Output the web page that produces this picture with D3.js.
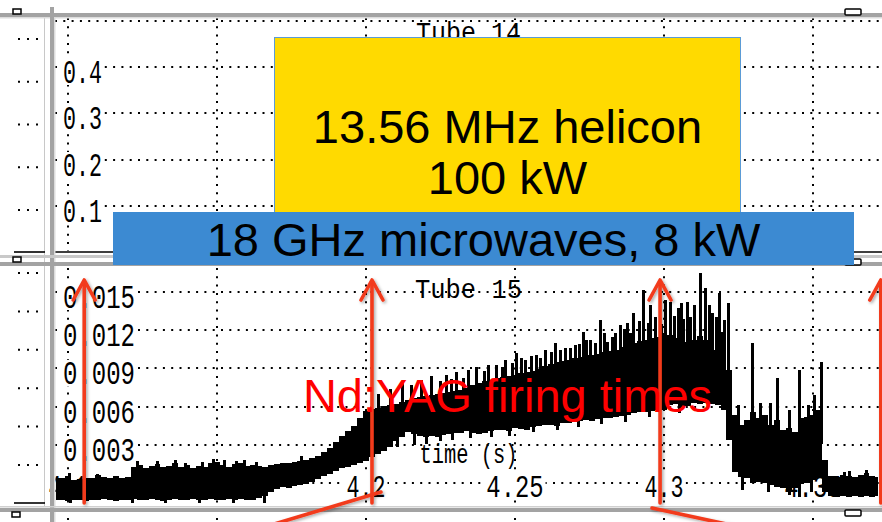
<!DOCTYPE html>
<html>
<head>
<meta charset="utf-8">
<script src="https://cdn.jsdelivr.net/npm/d3@7"></script>
<style>
  html, body { margin: 0; padding: 0; background: #fff; }
  svg { display: block; }
</style>
</head>
<body>
<svg id="chart" width="882" height="522"></svg>
<script>
// ---- Tube 15 photodiode signal: min/max envelope in 2 ms bins ----
const binTimes = [
  4.096,4.098,4.100,4.102,4.104,4.106,4.108,4.110,4.112,4.114,
  4.116,4.118,4.120,4.122,4.124,4.126,4.128,4.130,4.132,4.134,
  4.136,4.138,4.140,4.142,4.144,4.146,4.148,4.150,4.152,4.154,
  4.156,4.158,4.160,4.162,4.164,4.166,4.168,4.170,4.172,4.174,
  4.176,4.178,4.180,4.182,4.184,4.186,4.188,4.190,4.192,4.194,
  4.196,4.198,4.200,4.202,4.204,4.206,4.208,4.210,4.212,4.214,
  4.216,4.218,4.220,4.222,4.224,4.226,4.228,4.230,4.232,4.234,
  4.236,4.238,4.240,4.242,4.244,4.246,4.248,4.250,4.252,4.254,
  4.256,4.258,4.260,4.262,4.264,4.266,4.268,4.270,4.272,4.274,
  4.276,4.278,4.280,4.282,4.284,4.286,4.288,4.290,4.292,4.294,
  4.296,4.298,4.300,4.302,4.304,4.306,4.308,4.310,4.312,4.314,
  4.316,4.318,4.320,4.322,4.324,4.326,4.328,4.330,4.332,4.334,
  4.336,4.338,4.340,4.342,4.344,4.346,4.348,4.350,4.352,4.354,
  4.356,4.358,4.360,4.362,4.364,4.366,4.368,4.370,4.372
];
const upperEnv = [
  0.00039,0.00039,0.00055,0.00024,0.00031,0.00039,0.00039,0.00063,0.00047,0.00039,
  0.00055,0.00039,0.00047,0.00126,0.00141,0.00118,0.00133,0.00149,0.00126,0.00133,
  0.00157,0.00126,0.00141,0.00118,0.00133,0.00126,0.00157,0.00165,0.00141,0.00126,
  0.00149,0.00157,0.00133,0.00141,0.00133,0.00126,0.00141,0.00149,0.00157,0.00157,
  0.00165,0.00173,0.00181,0.00196,0.00212,0.00243,0.00275,0.00322,0.00369,0.00408,
  0.00447,0.00510,0.00565,0.00581,0.00589,0.00604,0.00612,0.00620,0.00636,0.00652,
  0.00667,0.00675,0.00683,0.00691,0.00699,0.00707,0.00714,0.00722,0.00730,0.00746,
  0.00769,0.00785,0.00801,0.00809,0.00824,0.00832,0.00840,0.00848,0.00864,0.00871,
  0.00879,0.00895,0.00918,0.00934,0.00950,0.00958,0.00966,0.00981,0.00989,0.01005,
  0.01005,0.01013,0.01028,0.01036,0.01044,0.01068,0.01083,0.01099,0.01115,0.01123,
  0.01138,0.01146,0.01178,0.01162,0.01138,0.01083,0.01107,0.01123,0.01154,0.01123,
  0.01044,0.01083,0.01185,0.00887,0.00534,0.00455,0.00495,0.00557,0.00510,0.00534,
  0.00455,0.00495,0.00416,0.00432,0.00400,0.00510,0.00518,0.00534,0.00573,0.00181,
  0.00055,0.00047,0.00063,0.00055,0.00047,0.00063,0.00079,0.00055,0.00047
];
const lowerEnv = [
  -0.00133,-0.00133,-0.00141,-0.00133,-0.00133,-0.00141,-0.00133,-0.00133,-0.00126,-0.00133,
  -0.00141,-0.00133,-0.00133,-0.00126,-0.00133,-0.00133,-0.00126,-0.00133,-0.00141,-0.00133,
  -0.00126,-0.00133,-0.00133,-0.00126,-0.00133,-0.00133,-0.00126,-0.00133,-0.00133,-0.00126,
  -0.00133,-0.00126,-0.00133,-0.00133,-0.00118,-0.00102,-0.00071,-0.00047,-0.00031,-0.00039,
  -0.00024,-0.00016,-0.00008,0.00008,0.00031,0.00055,0.00071,0.00094,0.00118,0.00126,
  0.00141,0.00157,0.00173,0.00204,0.00228,0.00251,0.00283,0.00330,0.00361,0.00400,
  0.00385,0.00369,0.00361,0.00369,0.00361,0.00377,0.00385,0.00393,0.00393,0.00408,
  0.00393,0.00385,0.00393,0.00408,0.00416,0.00416,0.00408,0.00432,0.00424,0.00416,
  0.00440,0.00447,0.00455,0.00455,0.00447,0.00471,0.00471,0.00479,0.00487,0.00495,
  0.00487,0.00502,0.00510,0.00510,0.00518,0.00526,0.00534,0.00550,0.00557,0.00557,
  0.00565,0.00573,0.00573,0.00612,0.00620,0.00597,0.00604,0.00628,0.00620,0.00628,
  0.00620,0.00612,0.00573,0.00338,0.00086,0.00047,0.00039,0.00000,0.00008,0.00000,
  -0.00016,-0.00031,-0.00039,-0.00055,-0.00039,-0.00008,0.00000,0.00024,0.00039,-0.00071,
  -0.00102,-0.00110,-0.00102,-0.00110,-0.00102,-0.00110,-0.00102,-0.00110,-0.00102
];
// individual excursions beyond the envelope: [time (s), value]
const spikes = [
  [4.1003,0.00079],[4.1097,0.00071],[4.1231,0.00173],[4.1298,0.00173],[4.1358,0.00181],
  [4.1391,0.00157],[4.1448,0.00165],[4.1488,0.00188],[4.1522,0.00181],[4.1565,0.00173],
  [4.1589,0.00181],[4.1632,0.00165],[4.1783,0.00212],
  [4.2040,0.00700],[4.2080,0.00740],[4.2120,0.00790],[4.2150,0.00770],
  [4.2184,0.00809],[4.2217,0.00840],[4.2250,0.00800],[4.2268,0.00848],[4.2285,0.00820],
  [4.2301,0.00871],[4.2324,0.00824],[4.2341,0.00887],[4.2368,0.00911],[4.2395,0.00880],
  [4.2410,0.00930],[4.2435,0.00927],[4.2455,0.00910],[4.2468,0.00966],[4.2490,0.00940],
  [4.2502,0.01020],[4.2520,0.00980],[4.2535,0.00966],[4.2555,0.01000],[4.2569,0.01005],
  [4.2585,0.00980],[4.2602,0.01044],[4.2620,0.01030],[4.2635,0.01099],[4.2652,0.01044],
  [4.2669,0.01060],[4.2685,0.01060],[4.2702,0.01083],[4.2715,0.01090],[4.2729,0.01185],
  [4.2740,0.01120],[4.2753,0.01123],[4.2770,0.01100],[4.2786,0.01280],[4.2800,0.01180],
  [4.2809,0.01107],[4.2825,0.01150],[4.2836,0.01178],[4.2853,0.01240],[4.2865,0.01210],
  [4.2876,0.01256],[4.2885,0.01180],[4.2896,0.01335],[4.2915,0.01270],[4.2930,0.01515],
  [4.2945,0.01260],[4.2953,0.01397],[4.2970,0.01300],[4.2990,0.01250],[4.3003,0.01437],
  [4.3020,0.01421],[4.3033,0.01310],[4.3047,0.01374],[4.3057,0.01413],[4.3065,0.01290],
  [4.3077,0.01421],[4.3087,0.01303],[4.3100,0.01400],[4.3120,0.01649],[4.3137,0.01531],
  [4.3150,0.01400],[4.3161,0.01335],[4.3175,0.01300],[4.3184,0.01492],[4.3200,0.01280],
  [4.3214,0.01413],
  [4.3247,0.00612],[4.3294,0.01099],[4.3321,0.00628],[4.3355,0.00628],[4.3381,0.00824],
  [4.3421,0.00573],[4.3455,0.00887],[4.3482,0.00612],[4.3505,0.00691],[4.3528,0.00950],
  [4.3605,0.00086],[4.3622,0.00094],[4.3679,0.00102],
  [4.1007,-0.00157],[4.1214,-0.00157],[4.1324,-0.00157],[4.1438,-0.00157],[4.1555,-0.00157],
  [4.1656,-0.00157],
  [4.2060,0.00260],[4.2105,0.00280],[4.2160,0.00300],[4.2200,0.00310],[4.2250,0.00330],
  [4.2290,0.00340],[4.2350,0.00350],[4.2420,0.00360],[4.2480,0.00370],[4.2560,0.00400],
  [4.2640,0.00420],[4.2710,0.00440],[4.2790,0.00460],[4.2870,0.00480],[4.2950,0.00520],
  [4.3050,0.00550],
  [4.3261,-0.00055],[4.3348,-0.00071],[4.3421,-0.00094],[4.3455,-0.00110],[4.3495,-0.00071]
];

// ---- axes ----
const timeTicks = [4.1, 4.15, 4.2, 4.25, 4.3, 4.35];
const tube14Grid = [0.1, 0.2, 0.3, 0.4, 0.5];
const tube14Labels = [0.1, 0.2, 0.3, 0.4];
const tube15Grid = [0, 0.003, 0.006, 0.009, 0.012, 0.015];
const tube15Labels = [0.003, 0.006, 0.009, 0.012, 0.015];

// ---- annotations ----
const laserShots = [4.1054, 4.2020, 4.2987, 4.3728];
const heliconLines = ["13.56 MHz helicon", "100 kW"];
const microwaveLabel = "18 GHz microwaves, 8 kW";
const laserLabel = "Nd:YAG firing times";

const W = 882, H = 522;
const svg = d3.select("#chart");

// scales
const plotLeft = 55, plotRight = 882;
const plotMid = (plotLeft + plotRight) / 2;
const x = d3.scaleLinear().domain([4.0956, 4.3732]).range([plotLeft, plotRight]);
const yTop = d3.scaleLinear().domain([0, 0.5]).range([252.3, 20.7]);
const yBot = d3.scaleLinear().domain([-0.0015, 0.017]).range([502.1, 266.5]);

const scopeFont = "'Liberation Mono', 'DejaVu Sans Mono', monospace";
const sansFont = "'Liberation Sans', Arial, sans-serif";

const defs = svg.append("defs");
defs.append("clipPath").attr("id", "tube15Clip")
  .append("rect").attr("x", plotLeft).attr("y", 267).attr("width", plotRight - plotLeft).attr("height", 238);
const shadow = defs.append("filter").attr("id", "arrowShadow")
  .attr("x", "-50%").attr("y", "-10%").attr("width", "200%").attr("height", "120%");
shadow.append("feDropShadow").attr("dx", 1.5).attr("dy", 1.5)
  .attr("stdDeviation", 1.4).attr("flood-color", "#000").attr("flood-opacity", 0.35);

svg.append("rect").attr("width", W).attr("height", H).attr("fill", "#fff");

// ---- neighbouring scope window on the left edge ----
const strip = svg.append("g");
const nbTop = d3.scaleLinear().domain([0, 4]).range([39, 210]);
const nbBot = d3.scaleLinear().domain([0, 5]).range([273, 465]);
strip.selectAll("line.nb")
  .data(d3.range(5).map(nbTop).concat(d3.range(6).map(nbBot)))
  .join("line").attr("class", "nb")
  .attr("x1", 18).attr("x2", 43).attr("y1", d => d).attr("y2", d => d)
  .attr("stroke", "#000").attr("stroke-width", 2).attr("stroke-dasharray", "2,7");
strip.append("line").attr("x1", 44.5).attr("x2", 44.5).attr("y1", 17).attr("y2", 506)
  .attr("stroke", "#c8c8c8").attr("stroke-width", 1);
strip.append("line").attr("x1", 14).attr("x2", 45).attr("y1", 252).attr("y2", 252)
  .attr("stroke", "#000").attr("stroke-width", 1.6);
strip.append("line").attr("x1", 14).attr("x2", 45).attr("y1", 503).attr("y2", 503)
  .attr("stroke", "#000").attr("stroke-width", 1.6);

// ---- dotted grids ----
const dot = { stroke: "#000", width: 2, dash: "2,6.3" };
function hGrid(g, values, yScale, y0, y1) {
  g.selectAll(null).data(values).join("line")
    .attr("x1", plotLeft).attr("x2", plotRight)
    .attr("y1", d => Math.round(yScale(d))).attr("y2", d => Math.round(yScale(d)))
    .attr("stroke", dot.stroke).attr("stroke-width", dot.width).attr("stroke-dasharray", dot.dash);
  g.selectAll(null).data(timeTicks).join("line")
    .attr("x1", d => Math.round(x(d))).attr("x2", d => Math.round(x(d)))
    .attr("y1", y0).attr("y2", y1)
    .attr("stroke", dot.stroke).attr("stroke-width", dot.width).attr("stroke-dasharray", dot.dash);
}

function tickLabel(g, txt, xPos, baseline, charW, anchor, size) {
  const w = txt.length * charW;
  const x0 = anchor === "middle" ? xPos - w / 2 : xPos;
  g.append("rect").attr("x", x0 - 2).attr("y", baseline - 24).attr("width", w + 4).attr("height", 26)
    .attr("fill", "#fff");
  g.append("text").attr("x", x0).attr("y", baseline)
    .attr("font-family", scopeFont).attr("font-size", size).attr("fill", "#000")
    .attr("textLength", w).attr("lengthAdjust", "spacingAndGlyphs")
    .text(txt);
}

// Tube 14 panel
const panel14 = svg.append("g");
hGrid(panel14, tube14Grid, yTop, 18, 251);
const f1 = d3.format(".1f");
tube14Labels.forEach(v => tickLabel(panel14, f1(v), 63, Math.round(yTop(v)) + 16, 13, "start", 34));
panel14.append("text").attr("x", plotMid).attr("y", 41)
  .attr("text-anchor", "middle").attr("font-family", scopeFont).attr("font-size", 27)
  .attr("textLength", 105).attr("lengthAdjust", "spacingAndGlyphs").text("Tube 14");
panel14.append("line").attr("x1", plotLeft).attr("x2", plotRight).attr("y1", 252).attr("y2", 252)
  .attr("stroke", "#000").attr("stroke-width", 1.6);

// Tube 15 panel
const panel15 = svg.append("g");
hGrid(panel15, tube15Grid, yBot, 268, 505);
const f3 = d3.format(".3f");
tube15Labels.forEach(v => tickLabel(panel15, f3(v), 63, Math.round(yBot(v)) + 16, 14.4, "start", 34));
timeTicks.forEach(t => {
  const s = String(t);
  tickLabel(panel15, s, x(t), Math.round(yBot(0)) + 14, s.length > 3 ? 14.3 : 13, "middle", 31);
});
panel15.append("text").attr("x", plotMid).attr("y", 298)
  .attr("text-anchor", "middle").attr("font-family", scopeFont).attr("font-size", 27)
  .attr("textLength", 107).attr("lengthAdjust", "spacingAndGlyphs").text("Tube 15");
panel15.append("text").attr("x", plotMid).attr("y", 463)
  .attr("text-anchor", "middle").attr("font-family", scopeFont).attr("font-size", 27)
  .attr("textLength", 98).attr("lengthAdjust", "spacingAndGlyphs").text("time (s)");

// ---- signal trace ----
const trace = svg.append("g").attr("clip-path", "url(#tube15Clip)");
const bins = binTimes.map((t, i) => ({ t, hi: upperEnv[i], lo: lowerEnv[i] }));
trace.append("path").datum(bins)
  .attr("d", d3.area().x(d => x(d.t)).y0(d => yBot(d.lo)).y1(d => yBot(d.hi)).curve(d3.curveStep))
  .attr("fill", "#000").attr("shape-rendering", "crispEdges");
const nearestBin = t => bins[d3.minIndex(bins, b => Math.abs(b.t - t))];
trace.selectAll("line.spike").data(spikes).join("line").attr("class", "spike")
  .attr("x1", d => Math.round(x(d[0])) + 0.5).attr("x2", d => Math.round(x(d[0])) + 0.5)
  .attr("y1", d => { const b = nearestBin(d[0]); return yBot((b.hi + b.lo) / 2); })
  .attr("y2", d => yBot(d[1]))
  .attr("stroke", "#000").attr("stroke-width", 2.2).attr("shape-rendering", "crispEdges");

// ---- window chrome ----
const chrome = svg.append("g");
chrome.append("rect").attr("x", 0).attr("y", 13).attr("width", W).attr("height", 4).attr("fill", "#a3a3a3");
chrome.append("rect").attr("x", 0).attr("y", 17).attr("width", W).attr("height", 1.5).attr("fill", "#dcdcdc");
chrome.append("rect").attr("x", 50).attr("y", 7).attr("width", 4).attr("height", H - 7).attr("fill", "#a3a3a3");
chrome.append("rect").attr("x", 54).attr("y", 17).attr("width", 1.5).attr("height", H - 17).attr("fill", "#dcdcdc");
chrome.append("rect").attr("x", 0).attr("y", 255).attr("width", W).attr("height", 3).attr("fill", "#c9c9c9");
chrome.append("rect").attr("x", 0).attr("y", 262).attr("width", W).attr("height", 4).attr("fill", "#a3a3a3");
chrome.append("rect").attr("x", 0).attr("y", 506).attr("width", W).attr("height", 1.5).attr("fill", "#d0d0d0");
chrome.append("rect").attr("x", 0).attr("y", 508).attr("width", W).attr("height", 4).attr("fill", "#a3a3a3");
// resize handles
[[13, 9], [13, 257], [12, 512]].forEach(([hx, hy]) =>
  chrome.append("rect").attr("x", hx).attr("y", hy).attr("width", 8).attr("height", 5)
    .attr("fill", "#fff").attr("stroke", "#000").attr("stroke-width", 1.5));
[[845, 9], [845, 259], [845, 510]].forEach(([hx, hy]) =>
  chrome.append("rect").attr("x", hx).attr("y", hy).attr("width", 16).attr("height", 6).attr("rx", 1)
    .attr("fill", "#fff").attr("stroke", "#000").attr("stroke-width", 1.5));
// tick dots of the window below
chrome.selectAll(null).data(timeTicks).join("rect")
  .attr("x", d => Math.round(x(d)) - 1).attr("y", 518).attr("width", 2).attr("height", 2).attr("fill", "#000");

// ---- annotation boxes ----
const ann = svg.append("g");
ann.append("rect").attr("x", 274.5).attr("y", 37.5).attr("width", 466).attr("height", 175)
  .attr("fill", "#FFDA00").attr("stroke", "#5b9bd5").attr("stroke-width", 1);
heliconLines.forEach((s, i) =>
  ann.append("text").attr("x", 507.5).attr("y", 143 + i * 51).attr("text-anchor", "middle")
    .attr("font-family", sansFont).attr("font-size", 47).attr("fill", "#000").text(s));
ann.append("rect").attr("x", 113).attr("y", 212).attr("width", 741).attr("height", 53)
  .attr("fill", "#3c8ad2");
ann.append("text").attr("x", 483.5).attr("y", 256).attr("text-anchor", "middle")
  .attr("font-family", sansFont).attr("font-size", 47).attr("fill", "#000").text(microwaveLabel);

// ---- laser firing arrows ----
const arrowColor = "#f23a1c";
const arrows = svg.append("g").attr("filter", "url(#arrowShadow)")
  .attr("stroke", arrowColor).attr("stroke-width", 3.6).attr("fill", "none")
  .attr("stroke-linecap", "round").attr("stroke-linejoin", "round");
const tipY = 280, baseY = 503;
laserShots.forEach(t => {
  const ax = x(t);
  arrows.append("line").attr("x1", ax).attr("x2", ax).attr("y1", baseY).attr("y2", tipY + 2);
  arrows.append("path").attr("d", `M${ax - 11},${tipY + 20} L${ax},${tipY} L${ax + 11},${tipY + 20}`);
});
// callout leaders running down to the caption below
const a2 = x(laserShots[1]), a3 = x(laserShots[2]);
arrows.append("line").attr("x1", a2 + 9).attr("y1", 492).attr("x2", a2 - 191).attr("y2", 552);
arrows.append("line").attr("x1", a3 - 8).attr("y1", 508).attr("x2", a3 + 122).attr("y2", 536);

svg.append("text").attr("x", 507.5).attr("y", 412).attr("text-anchor", "middle")
  .attr("font-family", sansFont).attr("font-size", 47).attr("fill", "#ff0000").text(laserLabel);
</script>
</body>
</html>
